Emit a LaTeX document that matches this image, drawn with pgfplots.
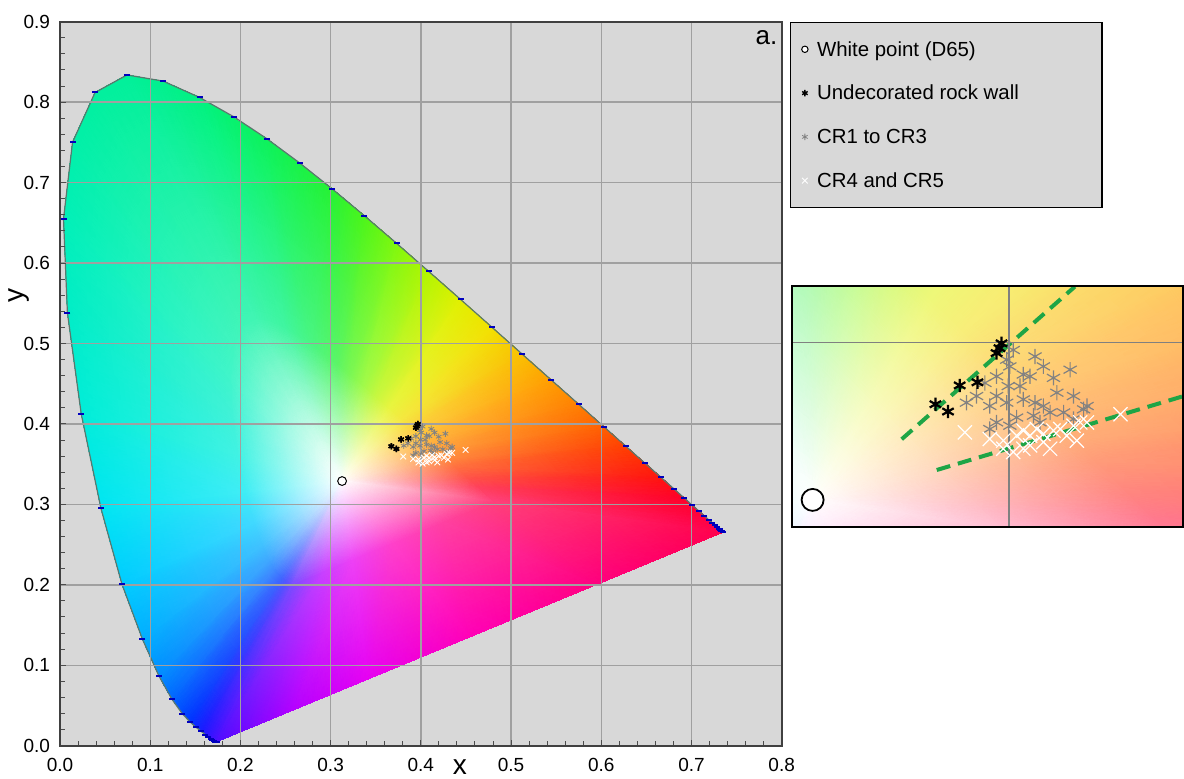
\documentclass[border=0pt]{standalone}
\usepackage{fontspec}
\setmainfont{Liberation Sans}
\usepackage{pgfplots}
\usepackage{pgfplotstable}
\pgfplotsset{compat=1.18}
\usepgfplotslibrary{patchplots}
\definecolor{bgg}{RGB}{216,216,216}
\definecolor{gridg}{RGB}{160,160,160}
\definecolor{tickblue}{RGB}{0,0,190}
\definecolor{dashgreen}{RGB}{30,165,70}
\definecolor{markgray}{RGB}{130,130,130}
\definecolor{outline}{RGB}{90,120,110}

% colour fill of the chromaticity diagram: triangles with vertex colours
\pgfplotstableread{
x y c
0.3127 0.3290 rgb=1,1,1
0.2569 0.1993 rgb=0.48,0.29,1
0.2502 0.2045 rgb=0.33,0.33,1
0.2569 0.1993 rgb=0.48,0.29,1
0.1733 0.0048 rgb=0.3,0.05,1
0.1566 0.0177 rgb=0.1,0.1,1
0.2569 0.1993 rgb=0.48,0.29,1
0.1566 0.0177 rgb=0.1,0.1,1
0.2502 0.2045 rgb=0.33,0.33,1
0.3127 0.3290 rgb=1,1,1
0.2502 0.2045 rgb=0.33,0.33,1
0.2452 0.2093 rgb=0.25,0.4,1
0.2502 0.2045 rgb=0.33,0.33,1
0.1566 0.0177 rgb=0.1,0.1,1
0.1440 0.0297 rgb=0,0.2,1
0.2502 0.2045 rgb=0.33,0.33,1
0.1440 0.0297 rgb=0,0.2,1
0.2452 0.2093 rgb=0.25,0.4,1
0.3127 0.3290 rgb=1,1,1
0.2452 0.2093 rgb=0.25,0.4,1
0.2372 0.2205 rgb=0.25,0.55,1
0.2452 0.2093 rgb=0.25,0.4,1
0.1440 0.0297 rgb=0,0.2,1
0.1241 0.0578 rgb=0,0.4,1
0.2452 0.2093 rgb=0.25,0.4,1
0.1241 0.0578 rgb=0,0.4,1
0.2372 0.2205 rgb=0.25,0.55,1
0.3127 0.3290 rgb=1,1,1
0.2372 0.2205 rgb=0.25,0.55,1
0.2314 0.2321 rgb=0.25,0.66,1
0.2372 0.2205 rgb=0.25,0.55,1
0.1241 0.0578 rgb=0,0.4,1
0.1096 0.0868 rgb=0,0.55,1
0.2372 0.2205 rgb=0.25,0.55,1
0.1096 0.0868 rgb=0,0.55,1
0.2314 0.2321 rgb=0.25,0.66,1
0.3127 0.3290 rgb=1,1,1
0.2314 0.2321 rgb=0.25,0.66,1
0.2241 0.2505 rgb=0.25,0.76,1
0.2314 0.2321 rgb=0.25,0.66,1
0.1096 0.0868 rgb=0,0.55,1
0.0913 0.1327 rgb=0,0.68,1
0.2314 0.2321 rgb=0.25,0.66,1
0.0913 0.1327 rgb=0,0.68,1
0.2241 0.2505 rgb=0.25,0.76,1
0.3127 0.3290 rgb=1,1,1
0.2241 0.2505 rgb=0.25,0.76,1
0.2151 0.2777 rgb=0.25,0.85,1
0.2241 0.2505 rgb=0.25,0.76,1
0.0913 0.1327 rgb=0,0.68,1
0.0687 0.2007 rgb=0,0.8,1
0.2241 0.2505 rgb=0.25,0.76,1
0.0687 0.2007 rgb=0,0.8,1
0.2151 0.2777 rgb=0.25,0.85,1
0.3127 0.3290 rgb=1,1,1
0.2151 0.2777 rgb=0.25,0.85,1
0.2058 0.3154 rgb=0.25,0.93,0.96
0.2151 0.2777 rgb=0.25,0.85,1
0.0687 0.2007 rgb=0,0.8,1
0.0454 0.2950 rgb=0,0.9,0.95
0.2151 0.2777 rgb=0.25,0.85,1
0.0454 0.2950 rgb=0,0.9,0.95
0.2058 0.3154 rgb=0.25,0.93,0.96
0.3127 0.3290 rgb=1,1,1
0.2058 0.3154 rgb=0.25,0.93,0.96
0.1970 0.3625 rgb=0.25,0.95,0.89
0.2058 0.3154 rgb=0.25,0.93,0.96
0.0454 0.2950 rgb=0,0.9,0.95
0.0235 0.4127 rgb=0,0.93,0.85
0.2058 0.3154 rgb=0.25,0.93,0.96
0.0235 0.4127 rgb=0,0.93,0.85
0.1970 0.3625 rgb=0.25,0.95,0.89
0.3127 0.3290 rgb=1,1,1
0.1970 0.3625 rgb=0.25,0.95,0.89
0.1909 0.4128 rgb=0.25,0.95,0.84
0.1970 0.3625 rgb=0.25,0.95,0.89
0.0235 0.4127 rgb=0,0.93,0.85
0.0082 0.5384 rgb=0,0.93,0.78
0.1970 0.3625 rgb=0.25,0.95,0.89
0.0082 0.5384 rgb=0,0.93,0.78
0.1909 0.4128 rgb=0.25,0.95,0.84
0.3127 0.3290 rgb=1,1,1
0.1909 0.4128 rgb=0.25,0.95,0.84
0.1892 0.4593 rgb=0.25,0.96,0.79
0.1909 0.4128 rgb=0.25,0.95,0.84
0.0082 0.5384 rgb=0,0.93,0.78
0.0039 0.6548 rgb=0,0.94,0.72
0.1909 0.4128 rgb=0.25,0.95,0.84
0.0039 0.6548 rgb=0,0.94,0.72
0.1892 0.4593 rgb=0.25,0.96,0.79
0.3127 0.3290 rgb=1,1,1
0.1892 0.4593 rgb=0.25,0.96,0.79
0.1932 0.4975 rgb=0.25,0.96,0.75
0.1892 0.4593 rgb=0.25,0.96,0.79
0.0039 0.6548 rgb=0,0.94,0.72
0.0139 0.7502 rgb=0,0.94,0.66
0.1892 0.4593 rgb=0.25,0.96,0.79
0.0139 0.7502 rgb=0,0.94,0.66
0.1932 0.4975 rgb=0.25,0.96,0.75
0.3127 0.3290 rgb=1,1,1
0.1932 0.4975 rgb=0.25,0.96,0.75
0.2032 0.5222 rgb=0.25,0.96,0.72
0.1932 0.4975 rgb=0.25,0.96,0.75
0.0139 0.7502 rgb=0,0.94,0.66
0.0389 0.8120 rgb=0,0.94,0.62
0.1932 0.4975 rgb=0.25,0.96,0.75
0.0389 0.8120 rgb=0,0.94,0.62
0.2032 0.5222 rgb=0.25,0.96,0.72
0.3127 0.3290 rgb=1,1,1
0.2032 0.5222 rgb=0.25,0.96,0.72
0.2173 0.5309 rgb=0.25,0.96,0.7
0.2032 0.5222 rgb=0.25,0.96,0.72
0.0389 0.8120 rgb=0,0.94,0.62
0.0743 0.8338 rgb=0,0.94,0.6
0.2032 0.5222 rgb=0.25,0.96,0.72
0.0743 0.8338 rgb=0,0.94,0.6
0.2173 0.5309 rgb=0.25,0.96,0.7
0.3127 0.3290 rgb=1,1,1
0.2173 0.5309 rgb=0.25,0.96,0.7
0.2333 0.5279 rgb=0.25,0.96,0.66
0.2173 0.5309 rgb=0.25,0.96,0.7
0.0743 0.8338 rgb=0,0.94,0.6
0.1142 0.8262 rgb=0,0.94,0.55
0.2173 0.5309 rgb=0.25,0.96,0.7
0.1142 0.8262 rgb=0,0.94,0.55
0.2333 0.5279 rgb=0.25,0.96,0.66
0.3127 0.3290 rgb=1,1,1
0.2333 0.5279 rgb=0.25,0.96,0.66
0.2495 0.5198 rgb=0.25,0.96,0.63
0.2333 0.5279 rgb=0.25,0.96,0.66
0.1142 0.8262 rgb=0,0.94,0.55
0.1547 0.8059 rgb=0,0.95,0.5
0.2333 0.5279 rgb=0.25,0.96,0.66
0.1547 0.8059 rgb=0,0.95,0.5
0.2495 0.5198 rgb=0.25,0.96,0.63
0.3127 0.3290 rgb=1,1,1
0.2495 0.5198 rgb=0.25,0.96,0.63
0.2794 0.4991 rgb=0.29,0.96,0.51
0.2495 0.5198 rgb=0.25,0.96,0.63
0.1547 0.8059 rgb=0,0.95,0.5
0.2296 0.7543 rgb=0.05,0.95,0.35
0.2495 0.5198 rgb=0.25,0.96,0.63
0.2296 0.7543 rgb=0.05,0.95,0.35
0.2794 0.4991 rgb=0.29,0.96,0.51
0.3127 0.3290 rgb=1,1,1
0.2794 0.4991 rgb=0.29,0.96,0.51
0.3082 0.4743 rgb=0.36,0.96,0.4
0.2794 0.4991 rgb=0.29,0.96,0.51
0.2296 0.7543 rgb=0.05,0.95,0.35
0.3016 0.6923 rgb=0.15,0.95,0.2
0.2794 0.4991 rgb=0.29,0.96,0.51
0.3016 0.6923 rgb=0.15,0.95,0.2
0.3082 0.4743 rgb=0.36,0.96,0.4
0.3127 0.3290 rgb=1,1,1
0.3082 0.4743 rgb=0.36,0.96,0.4
0.3225 0.4610 rgb=0.48,0.97,0.33
0.3082 0.4743 rgb=0.36,0.96,0.4
0.3016 0.6923 rgb=0.15,0.95,0.2
0.3373 0.6589 rgb=0.3,0.96,0.1
0.3082 0.4743 rgb=0.36,0.96,0.4
0.3373 0.6589 rgb=0.3,0.96,0.1
0.3225 0.4610 rgb=0.48,0.97,0.33
0.3127 0.3290 rgb=1,1,1
0.3225 0.4610 rgb=0.48,0.97,0.33
0.3368 0.4472 rgb=0.63,0.98,0.29
0.3225 0.4610 rgb=0.48,0.97,0.33
0.3373 0.6589 rgb=0.3,0.96,0.1
0.3731 0.6245 rgb=0.5,0.97,0.05
0.3225 0.4610 rgb=0.48,0.97,0.33
0.3731 0.6245 rgb=0.5,0.97,0.05
0.3368 0.4472 rgb=0.63,0.98,0.29
0.3127 0.3290 rgb=1,1,1
0.3368 0.4472 rgb=0.63,0.98,0.29
0.3511 0.4332 rgb=0.78,0.97,0.25
0.3368 0.4472 rgb=0.63,0.98,0.29
0.3731 0.6245 rgb=0.5,0.97,0.05
0.4087 0.5896 rgb=0.7,0.96,0
0.3368 0.4472 rgb=0.63,0.98,0.29
0.4087 0.5896 rgb=0.7,0.96,0
0.3511 0.4332 rgb=0.78,0.97,0.25
0.3127 0.3290 rgb=1,1,1
0.3511 0.4332 rgb=0.78,0.97,0.25
0.3652 0.4193 rgb=0.91,0.96,0.25
0.3511 0.4332 rgb=0.78,0.97,0.25
0.4087 0.5896 rgb=0.7,0.96,0
0.4441 0.5547 rgb=0.88,0.94,0
0.3511 0.4332 rgb=0.78,0.97,0.25
0.4441 0.5547 rgb=0.88,0.94,0
0.3652 0.4193 rgb=0.91,0.96,0.25
0.3127 0.3290 rgb=1,1,1
0.3652 0.4193 rgb=0.91,0.96,0.25
0.3791 0.4055 rgb=0.96,0.91,0.25
0.3652 0.4193 rgb=0.91,0.96,0.25
0.4441 0.5547 rgb=0.88,0.94,0
0.4788 0.5202 rgb=0.95,0.88,0
0.3652 0.4193 rgb=0.91,0.96,0.25
0.4788 0.5202 rgb=0.95,0.88,0
0.3791 0.4055 rgb=0.96,0.91,0.25
0.3127 0.3290 rgb=1,1,1
0.3791 0.4055 rgb=0.96,0.91,0.25
0.3926 0.3920 rgb=0.99,0.81,0.25
0.3791 0.4055 rgb=0.96,0.91,0.25
0.4788 0.5202 rgb=0.95,0.88,0
0.5125 0.4866 rgb=0.98,0.75,0
0.3791 0.4055 rgb=0.96,0.91,0.25
0.5125 0.4866 rgb=0.98,0.75,0
0.3926 0.3920 rgb=0.99,0.81,0.25
0.3127 0.3290 rgb=1,1,1
0.3926 0.3920 rgb=0.99,0.81,0.25
0.4055 0.3792 rgb=1,0.72,0.25
0.3926 0.3920 rgb=0.99,0.81,0.25
0.5125 0.4866 rgb=0.98,0.75,0
0.5448 0.4544 rgb=1,0.62,0
0.3926 0.3920 rgb=0.99,0.81,0.25
0.5448 0.4544 rgb=1,0.62,0
0.4055 0.3792 rgb=1,0.72,0.25
0.3127 0.3290 rgb=1,1,1
0.4055 0.3792 rgb=1,0.72,0.25
0.4177 0.3671 rgb=1,0.63,0.25
0.4055 0.3792 rgb=1,0.72,0.25
0.5448 0.4544 rgb=1,0.62,0
0.5752 0.4242 rgb=1,0.5,0
0.4055 0.3792 rgb=1,0.72,0.25
0.5752 0.4242 rgb=1,0.5,0
0.4177 0.3671 rgb=1,0.63,0.25
0.3127 0.3290 rgb=1,1,1
0.4177 0.3671 rgb=1,0.63,0.25
0.4288 0.3560 rgb=1,0.54,0.25
0.4177 0.3671 rgb=1,0.63,0.25
0.5752 0.4242 rgb=1,0.5,0
0.6029 0.3965 rgb=1,0.38,0
0.4177 0.3671 rgb=1,0.63,0.25
0.6029 0.3965 rgb=1,0.38,0
0.4288 0.3560 rgb=1,0.54,0.25
0.3127 0.3290 rgb=1,1,1
0.4288 0.3560 rgb=1,0.54,0.25
0.4384 0.3464 rgb=1,0.44,0.25
0.4288 0.3560 rgb=1,0.54,0.25
0.6029 0.3965 rgb=1,0.38,0
0.6270 0.3725 rgb=1,0.25,0
0.4288 0.3560 rgb=1,0.54,0.25
0.6270 0.3725 rgb=1,0.25,0
0.4384 0.3464 rgb=1,0.44,0.25
0.3127 0.3290 rgb=1,1,1
0.4384 0.3464 rgb=1,0.44,0.25
0.4539 0.3310 rgb=1,0.31,0.29
0.4384 0.3464 rgb=1,0.44,0.25
0.6270 0.3725 rgb=1,0.25,0
0.6658 0.3340 rgb=1,0.08,0.05
0.4384 0.3464 rgb=1,0.44,0.25
0.6658 0.3340 rgb=1,0.08,0.05
0.4539 0.3310 rgb=1,0.31,0.29
0.3127 0.3290 rgb=1,1,1
0.4539 0.3310 rgb=1,0.31,0.29
0.4642 0.3207 rgb=1,0.25,0.36
0.4539 0.3310 rgb=1,0.31,0.29
0.6658 0.3340 rgb=1,0.08,0.05
0.6915 0.3083 rgb=1,0,0.15
0.4539 0.3310 rgb=1,0.31,0.29
0.6915 0.3083 rgb=1,0,0.15
0.4642 0.3207 rgb=1,0.25,0.36
0.3127 0.3290 rgb=1,1,1
0.4642 0.3207 rgb=1,0.25,0.36
0.4752 0.3098 rgb=1,0.25,0.44
0.4642 0.3207 rgb=1,0.25,0.36
0.6915 0.3083 rgb=1,0,0.15
0.7190 0.2809 rgb=1,0,0.25
0.4642 0.3207 rgb=1,0.25,0.36
0.7190 0.2809 rgb=1,0,0.25
0.4752 0.3098 rgb=1,0.25,0.44
0.3127 0.3290 rgb=1,1,1
0.4752 0.3098 rgb=1,0.25,0.44
0.4815 0.3035 rgb=1,0.25,0.48
0.4752 0.3098 rgb=1,0.25,0.44
0.7190 0.2809 rgb=1,0,0.25
0.7347 0.2653 rgb=1,0,0.3
0.4752 0.3098 rgb=1,0.25,0.44
0.7347 0.2653 rgb=1,0,0.3
0.4815 0.3035 rgb=1,0.25,0.48
0.3127 0.3290 rgb=1,1,1
0.4815 0.3035 rgb=1,0.25,0.48
0.4254 0.2775 rgb=1,0.25,0.63
0.4815 0.3035 rgb=1,0.25,0.48
0.7347 0.2653 rgb=1,0,0.3
0.5944 0.2002 rgb=1,0,0.5
0.4815 0.3035 rgb=1,0.25,0.48
0.5944 0.2002 rgb=1,0,0.5
0.4254 0.2775 rgb=1,0.25,0.63
0.3127 0.3290 rgb=1,1,1
0.4254 0.2775 rgb=1,0.25,0.63
0.3692 0.2514 rgb=1,0.25,0.79
0.4254 0.2775 rgb=1,0.25,0.63
0.5944 0.2002 rgb=1,0,0.5
0.4540 0.1351 rgb=1,0,0.72
0.4254 0.2775 rgb=1,0.25,0.63
0.4540 0.1351 rgb=1,0,0.72
0.3692 0.2514 rgb=1,0.25,0.79
0.3127 0.3290 rgb=1,1,1
0.3692 0.2514 rgb=1,0.25,0.79
0.3243 0.2306 rgb=0.93,0.25,0.96
0.3692 0.2514 rgb=1,0.25,0.79
0.4540 0.1351 rgb=1,0,0.72
0.3417 0.0830 rgb=0.9,0,0.95
0.3692 0.2514 rgb=1,0.25,0.79
0.3417 0.0830 rgb=0.9,0,0.95
0.3243 0.2306 rgb=0.93,0.25,0.96
0.3127 0.3290 rgb=1,1,1
0.3243 0.2306 rgb=0.93,0.25,0.96
0.2906 0.2150 rgb=0.78,0.25,1
0.3243 0.2306 rgb=0.93,0.25,0.96
0.3417 0.0830 rgb=0.9,0,0.95
0.2575 0.0439 rgb=0.7,0,1
0.3243 0.2306 rgb=0.93,0.25,0.96
0.2575 0.0439 rgb=0.7,0,1
0.2906 0.2150 rgb=0.78,0.25,1
0.3127 0.3290 rgb=1,1,1
0.2906 0.2150 rgb=0.78,0.25,1
0.2569 0.1993 rgb=0.48,0.29,1
0.2906 0.2150 rgb=0.78,0.25,1
0.2575 0.0439 rgb=0.7,0,1
0.1733 0.0048 rgb=0.3,0.05,1
0.2906 0.2150 rgb=0.78,0.25,1
0.1733 0.0048 rgb=0.3,0.05,1
0.2569 0.1993 rgb=0.48,0.29,1
}\ciepatch

% spectral locus, 5 nm steps (380-700 nm)
\pgfplotstableread{
x y
0.1741 0.0050
0.1740 0.0050
0.1738 0.0049
0.1736 0.0049
0.1733 0.0048
0.1730 0.0048
0.1726 0.0048
0.1721 0.0048
0.1714 0.0051
0.1703 0.0058
0.1689 0.0069
0.1669 0.0086
0.1644 0.0109
0.1611 0.0138
0.1566 0.0177
0.1510 0.0227
0.1440 0.0297
0.1355 0.0399
0.1241 0.0578
0.1096 0.0868
0.0913 0.1327
0.0687 0.2007
0.0454 0.2950
0.0235 0.4127
0.0082 0.5384
0.0039 0.6548
0.0139 0.7502
0.0389 0.8120
0.0743 0.8338
0.1142 0.8262
0.1547 0.8059
0.1929 0.7816
0.2296 0.7543
0.2658 0.7243
0.3016 0.6923
0.3373 0.6589
0.3731 0.6245
0.4087 0.5896
0.4441 0.5547
0.4788 0.5202
0.5125 0.4866
0.5448 0.4544
0.5752 0.4242
0.6029 0.3965
0.6270 0.3725
0.6482 0.3514
0.6658 0.3340
0.6801 0.3197
0.6915 0.3083
0.7006 0.2993
0.7079 0.2920
0.7140 0.2859
0.7190 0.2809
0.7230 0.2770
0.7260 0.2740
0.7283 0.2717
0.7300 0.2700
0.7311 0.2689
0.7320 0.2680
0.7327 0.2673
0.7334 0.2666
0.7344 0.2656
0.7347 0.2653
}\locus

\pgfplotstableread{
x y
0.3127 0.3290
}\whitept

\pgfplotstableread{
x y
0.3673 0.3722
0.3729 0.3689
0.3781 0.3807
0.3860 0.3821
0.3945 0.3953
0.3967 0.3997
0.3958 0.3975
}\rockwall

\pgfplotstableread{
x y
0.4019 0.3967
0.4116 0.3938
0.4272 0.3878
0.4198 0.3841
0.4064 0.3856
0.3945 0.3848
0.3893 0.3818
0.3997 0.3804
0.4049 0.3804
0.3945 0.3759
0.3856 0.3759
0.3811 0.3729
0.3915 0.3714
0.3990 0.3729
0.4064 0.3744
0.4116 0.3729
0.4153 0.3714
0.4287 0.3759
0.4332 0.3699
0.4243 0.3685
0.4183 0.3685
0.4109 0.3670
0.4034 0.3662
0.3945 0.3640
0.3915 0.3610
0.4004 0.3625
0.4138 0.3640
0.4287 0.3655
0.4094 0.3848
0.4153 0.3893
0.4004 0.3893
0.3990 0.3923
0.4213 0.3774
0.4347 0.3714
}\crA

\pgfplotstableread{
x y
0.3804 0.3595
0.4496 0.3677
0.3915 0.3565
0.3975 0.3558
0.4034 0.3580
0.4064 0.3603
0.4094 0.3580
0.4124 0.3610
0.4153 0.3588
0.4198 0.3603
0.4228 0.3610
0.4257 0.3580
0.4287 0.3625
0.4317 0.3640
0.4347 0.3640
0.4302 0.3558
0.4064 0.3521
0.4019 0.3506
0.4094 0.3536
0.4153 0.3551
0.3975 0.3521
0.4183 0.3521
}\crB

\pgfplotsset{
  ciefill/.style={patch, shader=interp, mesh/color input=explicit,
    point meta=explicit symbolic, forget plot},
  mkimg/.style={legend image code/.code={\draw[##1,only marks] plot coordinates {(0pt,0pt)};}},
  mkimgsmall/.style={legend image code/.code={\draw[##1,only marks,mark size=1.6pt] plot coordinates {(0pt,0pt)};}},
}

\begin{document}
\begin{tikzpicture}
\useasboundingbox (-30pt,-16.15pt) rectangle (562pt,372.85pt);
\begin{axis}[
  at={(0pt,0pt)}, anchor=south west,
  scale only axis, width=360.85pt, height=362pt,
  xmin=0, xmax=0.8, ymin=0, ymax=0.9,
  xtick={0,0.1,0.2,0.3,0.4,0.5,0.6,0.7,0.8},
  ytick={0,0.1,0.2,0.3,0.4,0.5,0.6,0.7,0.8,0.9},
  minor tick num=4,
  tick align=inside, tick pos=left,
  major tick length=3pt, minor tick length=2.5pt,
  tick style={black!70, line width=0.5pt},
  grid=major, major grid style={gridg, line width=0.7pt},
  axis background/.style={fill=bgg},
  axis line style={black!75, line width=0.9pt},
  axis on top,
  /pgf/number format/fixed, /pgf/number format/fixed zerofill,
  /pgf/number format/precision=1, /pgf/number format/assume math mode=true,
  xticklabel style={font=\fontsize{9.5}{11}\selectfont, yshift=-2.8pt},
  yticklabel style={font=\fontsize{9.5}{11}\selectfont, xshift=-1.5pt},
  xlabel={x}, ylabel={y},
  xlabel style={font=\fontsize{14}{14}\selectfont, at={(axis description cs:0.554,0)}, anchor=north, inner sep=0pt, yshift=-7pt},
  ylabel style={font=\fontsize{14}{14}\selectfont, at={(axis description cs:-0.0568,0.6225)}, anchor=center, inner sep=0pt},
  legend cell align=left,
  legend style={at={(1.0115,1)}, anchor=north west, draw=black, line width=0.7pt,
    fill=bgg, font=\fontsize{10.2}{12}\selectfont, inner xsep=5.5pt, inner ysep=8.5pt,
    row sep=12pt, column sep=4.5pt, nodes={inner sep=0pt}},
]
\addplot[ciefill] table[meta=c] {\ciepatch};
\addplot[forget plot, color=outline, line width=0.6pt] table {\locus};
\addplot[forget plot, only marks, mark=-, mark size=1.5pt, color=tickblue, line width=1pt] table {\locus};
\addplot[only marks, mark=*, mark size=2.2pt, mark options={fill=white, draw=black, line width=0.5pt}, mkimgsmall] table {\whitept};
\addlegendentry{\makebox[137pt][l]{\strut White point (D65)}}
\addplot[only marks, mark=asterisk, mark size=1.6pt, color=black, line width=0.7pt, mkimg] table {\rockwall};
\addlegendentry{\makebox[137pt][l]{\strut Undecorated rock wall}}
\addplot[only marks, mark=asterisk, mark size=1.6pt, color=markgray, line width=0.4pt, mkimg] table {\crA};
\addlegendentry{\makebox[137pt][l]{\strut CR1 to CR3}}
\addplot[only marks, mark=x, mark size=2pt, color=white, line width=0.45pt, mkimg] table {\crB};
\addlegendentry{\makebox[137pt][l]{\strut CR4 and CR5}}
\addplot[forget plot, only marks, mark=asterisk, mark size=1.6pt, color=black, line width=0.7pt] table {\rockwall};
\node[anchor=north east, font=\fontsize{13}{13}\selectfont, inner sep=0pt] at (rel axis cs:1,1) [xshift=-2pt, yshift=-4pt] {a.};
\end{axis}

\begin{axis}[
  at={(365.85pt,109.5pt)}, anchor=south west,
  scale only axis, width=195.65pt, height=120.35pt,
  xmin=0.3034, xmax=0.4774, ymin=0.3169, ymax=0.4256,
  xtick={0.4}, ytick={0.4}, xticklabels={}, yticklabels={},
  major tick length=0pt,
  grid=major, major grid style={gray, line width=0.6pt},
  axis line style={black, line width=0.9pt},
  axis on top,
]
\addplot[ciefill] table[meta=c] {\ciepatch};
% pale veil over the enlarged view
\addplot[forget plot, draw=none, fill=white, fill opacity=0.3] coordinates {(0.30,0.31) (0.48,0.31) (0.48,0.43) (0.30,0.43)};
\addplot[forget plot, color=dashgreen, line width=2pt, dash pattern=on 7pt off 4pt] coordinates {(0.3523,0.3564) (0.4293,0.4253)};
\addplot[forget plot, color=dashgreen, line width=2pt, dash pattern=on 7pt off 4pt] coordinates {(0.3679,0.3425) (0.4774,0.3758)};
\addplot[only marks, mark=*, mark size=5.5pt, mark options={fill=white, draw=black, line width=0.9pt}] table {\whitept};
\addplot[only marks, mark=asterisk, mark size=3.8pt, color=markgray, line width=0.6pt] table {\crA};
\addplot[only marks, mark=x, mark size=5pt, color=white, line width=0.6pt] table {\crB};
\addplot[only marks, mark=asterisk, mark size=3.3pt, color=black, line width=1.1pt] table {\rockwall};
\node[anchor=south east, font=\fontsize{13}{13}\selectfont, inner sep=0pt] at (rel axis cs:1,1) [xshift=-1pt, yshift=3pt] {b.};
\end{axis}
\end{tikzpicture}
\end{document}
